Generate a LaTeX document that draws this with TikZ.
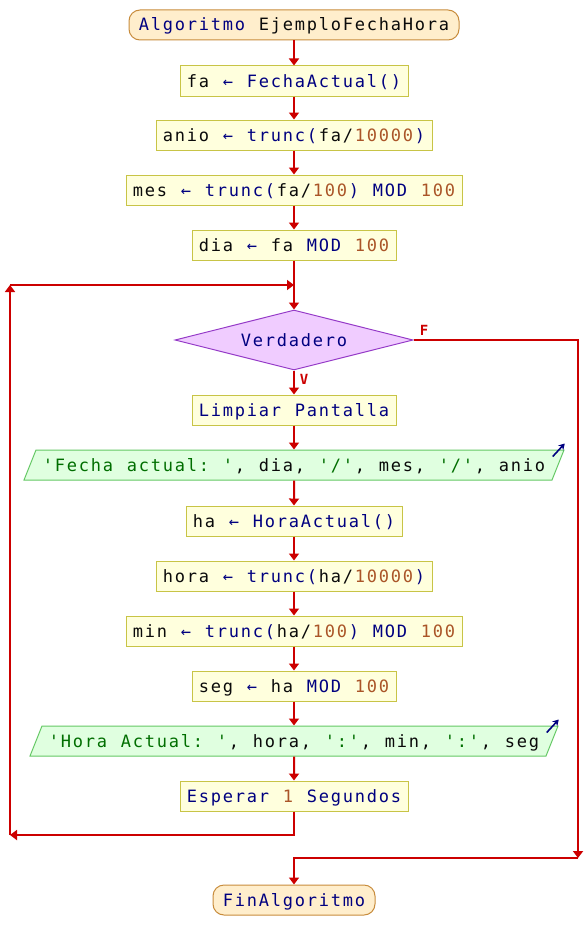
\documentclass[tikz,border=0pt]{standalone}
\usepackage{fontspec}
\usetikzlibrary{shapes.geometric,arrows.meta}
\newfontfamily\codefont{DejaVu Sans Mono}
\newfontfamily\labfont{DejaVu Sans Mono Bold}
\definecolor{flowred}{RGB}{204,0,0}
\definecolor{kwblue}{RGB}{0,0,128}
\definecolor{numbrown}{RGB}{170,85,40}
\definecolor{strgreen}{RGB}{0,110,0}
\definecolor{txtblack}{RGB}{10,10,10}
\definecolor{procfill}{RGB}{255,255,221}
\definecolor{procdraw}{RGB}{200,196,70}
\definecolor{termfill}{RGB}{255,238,204}
\definecolor{termdraw}{RGB}{200,140,60}
\definecolor{decfill}{RGB}{240,204,255}
\definecolor{decdraw}{RGB}{150,60,200}
\definecolor{iofill}{RGB}{224,255,224}
\definecolor{iodraw}{RGB}{100,200,100}
% each character in a cell 12pt wide
\def\cellloop#1{\ifx#1\relax\else\makebox[12pt]{#1}\expandafter\cellloop\fi}
\newcommand\ctx[1]{\textcolor{txtblack}{\cellloop#1\relax}}
\newcommand\ckw[1]{\textcolor{kwblue}{\cellloop#1\relax}}
\newcommand\cnum[1]{\textcolor{numbrown}{\cellloop#1\relax}}
\newcommand\cstr[1]{\textcolor{strgreen}{\cellloop#1\relax}}
\newcommand\qq{\textquotesingle}
\begin{document}
\begin{tikzpicture}[x=1pt,y=-1pt,
  font=\codefont\fontsize{17}{20}\selectfont,
  base/.style={text height=15pt,text depth=3pt,inner xsep=6pt,inner ysep=6pt,line width=1pt},
  proc/.style={base,rectangle,draw=procdraw,fill=procfill},
  term/.style={base,rectangle,rounded corners=11pt,draw=termdraw,fill=termfill,inner xsep=9pt},
  dec/.style={base,diamond,draw=decdraw,fill=decfill,aspect=4,inner sep=0pt,minimum width=238pt,minimum height=60pt},
  io/.style={base,trapezium,trapezium left angle=68.2,trapezium right angle=111.8,draw=iodraw,fill=iofill},
  flow/.style={draw=flowred,line width=2pt,-{Triangle[width=10pt,length=7pt]}},
  lab/.style={text=flowred,font=\labfont\fontsize{14}{16}\selectfont,inner sep=0pt},
  outarrow/.style={draw=kwblue,line width=1.6pt,-{Stealth[length=6pt,width=7pt]}}
]
\fill[white] (0,0) rectangle (588,950);
\useasboundingbox (0,0) rectangle (588,950);

\node[term] (start) at (294,25) {\ckw{Algoritmo~}\ctx{EjemploFechaHora}};
\node[proc] (fa) at (294,81) {\ctx{fa~}\ckw{←~FechaActual()}};
\node[proc] (anio) at (294,135) {\ctx{anio~}\ckw{←~trunc(}\ctx{fa/}\cnum{10000}\ckw{)}};
\node[proc] (mes) at (294,190) {\ctx{mes~}\ckw{←~trunc(}\ctx{fa/}\cnum{100}\ckw{)~MOD~}\cnum{100}};
\node[proc] (dia) at (294,245) {\ctx{dia~}\ckw{←~}\ctx{fa~}\ckw{MOD~}\cnum{100}};
\node[dec] (dec) at (294,340) {\ckw{Verdadero}};
\node[proc] (limp) at (294,410) {\ckw{Limpiar~Pantalla}};
\node[io] (out1) at (294,465) {\cstr{\qq Fecha~actual:~\qq}\ctx{,~dia,~}\cstr{\qq/\qq}\ctx{,~mes,~}\cstr{\qq/\qq}\ctx{,~anio}};
\node[proc] (ha) at (294,521) {\ctx{ha~}\ckw{←~HoraActual()}};
\node[proc] (hora) at (294,576) {\ctx{hora~}\ckw{←~trunc(}\ctx{ha/}\cnum{10000}\ckw{)}};
\node[proc] (min) at (294,631) {\ctx{min~}\ckw{←~trunc(}\ctx{ha/}\cnum{100}\ckw{)~MOD~}\cnum{100}};
\node[proc] (seg) at (294,686) {\ctx{seg~}\ckw{←~}\ctx{ha~}\ckw{MOD~}\cnum{100}};
\node[io] (out2) at (294,741) {\cstr{\qq Hora~Actual:~\qq}\ctx{,~hora,~}\cstr{\qq:\qq}\ctx{,~min,~}\cstr{\qq:\qq}\ctx{,~seg}};
\node[proc] (esp) at (294,796) {\ckw{Esperar~}\cnum{1}\ckw{~Segundos}};
\node[term] (fin) at (294,900) {\ckw{FinAlgoritmo}};

\coordinate (lj) at (294,285);
\coordinate (lt) at (10,285);
\coordinate (lb) at (10,835);
\coordinate (rb) at (578,858);

\draw[flow] (start) -- (fa);
\draw[flow] (fa) -- (anio);
\draw[flow] (anio) -- (mes);
\draw[flow] (mes) -- (dia);
\draw[flow] (dia) -- (dec);
\draw[flow] (dec) -- (limp);
\draw[flow] (limp) -- (out1);
\draw[flow] (out1) -- (ha);
\draw[flow] (ha) -- (hora);
\draw[flow] (hora) -- (min);
\draw[flow] (min) -- (seg);
\draw[flow] (seg) -- (out2);
\draw[flow] (out2) -- (esp);
\draw[flow] (esp.south) |- (lb);
\draw[flow] (lb) -- (lt);
\draw[flow] (lt) -- (lj);
\draw[flow] (dec.east) -| (rb);
\draw[flow] (rb) -| (fin.north);

\node[lab] (vlab) at (304,379) {V};
\node[lab] (flab) at (424,330) {F};

\draw[outarrow] ([shift={(-12,7)}]out1.top right corner) -- ([shift={(0,-6)}]out1.top right corner);
\draw[outarrow] ([shift={(-12,7)}]out2.top right corner) -- ([shift={(0,-6)}]out2.top right corner);
\end{tikzpicture}
\end{document}
